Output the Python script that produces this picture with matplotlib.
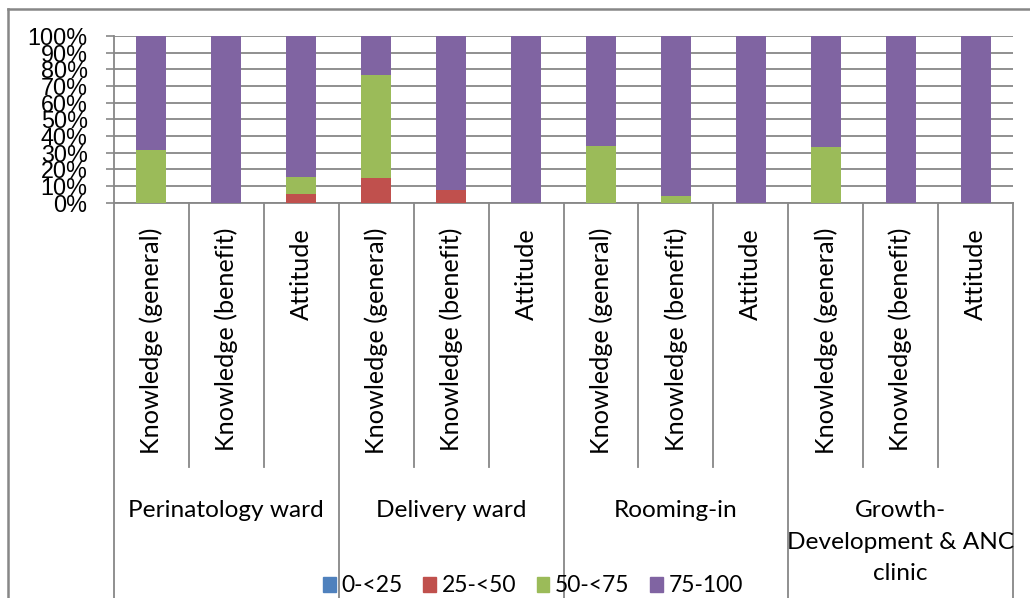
import numpy as np
import matplotlib
matplotlib.use('Agg')
from matplotlib import pyplot as plt
from matplotlib.patches import Patch
from matplotlib.lines import Line2D

items = ['Knowledge (general)', 'Knowledge (benefit)', 'Attitude'] * 4
wards = ['Perinatology ward', 'Delivery ward', 'Rooming-in', 'Growth-\nDevelopment & ANC\nclinic']
series = ['0-<25', '25-<50', '50-<75', '75-100']

s_0_25 = [0, 0, 0, 0, 0, 0, 0, 0, 0, 0, 0, 0]
s_25_50 = [0, 0, 5.2, 15.0, 7.4, 0, 0, 0, 0, 0, 0, 0]
s_50_75 = [31.6, 0, 10.2, 61.8, 0, 0, 34.2, 3.8, 0, 33.2, 0, 0]
s_75_100 = [68.4, 100, 84.6, 23.2, 92.6, 100, 65.8, 96.2, 100, 66.8, 100, 100]

colors = ['#4F81BD', '#C0504D', '#9BBB59', '#8064A2']
grid_c = '#878787'

W, H = 1030, 598
fig = plt.figure(figsize=(W / 100, H / 100), dpi=100)
fig.patch.set_facecolor('white')

# plot area in pixels
left, right, top, bottom = 114, 1013, 36, 202.7
ax = fig.add_axes([left / W, 1 - bottom / H, (right - left) / W, (bottom - top) / H])

x = np.arange(len(items))
base = np.zeros(len(items))
for vals, c, name in zip([s_0_25, s_25_50, s_50_75, s_75_100], colors, series):
    vals = np.array(vals, dtype=float)
    ax.bar(x, vals, bottom=base, width=0.4, color=c, label=name, zorder=3)
    base += vals

ax.set_xlim(-0.5, len(items) - 0.5)
ax.set_ylim(0, 100)
ax.set_yticks(np.arange(0, 101, 10))
ax.set_yticklabels([f'{v}%' for v in range(0, 101, 10)], fontfamily='Liberation Sans', fontsize=16.8)
ax.tick_params(axis='y', length=6, width=1.2, color=grid_c, pad=13)
ax.set_xticks([])
ax.grid(axis='y', color=grid_c, linewidth=1.3, zorder=0)
for s in ['top', 'right']:
    ax.spines[s].set_visible(False)
ax.spines['left'].set_color(grid_c)
ax.spines['left'].set_linewidth(1.3)
ax.spines['bottom'].set_color(grid_c)
ax.spines['bottom'].set_linewidth(1.3)

def px_to_axy(py):
    return (bottom - py) / (bottom - top)

# category divider lines under the axis
trans = ax.get_xaxis_transform()
for i in range(len(items) + 1):
    end = H if i % 3 == 0 else 467
    ax.plot([i - 0.5, i - 0.5], [0, px_to_axy(end)], color=grid_c, lw=1.3,
            transform=trans, clip_on=False, zorder=1)

for i, lab in enumerate(items):
    ax.text(i, px_to_axy(228), lab, rotation=90, ha='center', va='top',
            transform=trans, fontfamily='Lato', fontsize=18.2)

for g, lab in enumerate(wards):
    xc = g * 3 + 1
    ax.text(xc, px_to_axy(500), lab, ha='center', va='top', transform=trans,
            fontfamily='Lato', fontsize=17.6, linespacing=1.62)

# chart frame
fig.add_artist(Line2D([8 / W, 1], [1 - 9 / H, 1 - 9 / H], color=grid_c, lw=1.8))
fig.add_artist(Line2D([8 / W, 8 / W], [0, 1 - 9 / H], color=grid_c, lw=1.8))

handles = [Patch(color=c) for c in colors]
fig.legend(handles, series, loc='center', bbox_to_anchor=(533 / W, 1 - 586 / H), ncol=4,
           frameon=False, prop={'family': 'Lato', 'size': 16.5}, handlelength=0.55,
           handleheight=0.65, handletextpad=0.25, columnspacing=0.9, borderpad=0)

fig.savefig('out.png', dpi=100)
